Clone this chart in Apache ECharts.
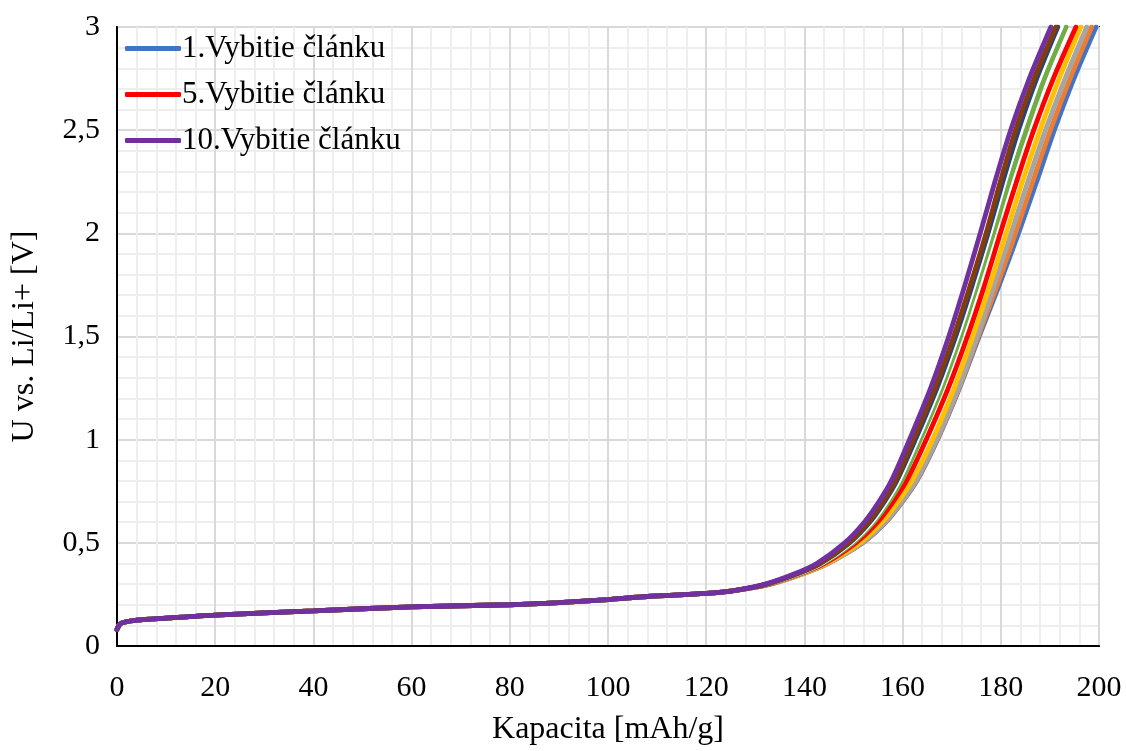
<!DOCTYPE html>
<html><head><meta charset="utf-8">
<script src="https://cdn.jsdelivr.net/npm/echarts@6/dist/echarts.min.js"></script>
<style>html,body{margin:0;padding:0;background:#fff}#c{width:1126px;height:751px}</style>
</head><body><div id="c"></div>
<script>
// Shared voltage levels [V]
const voltage = [0.08,0.11,0.125,0.135,0.15,0.17,0.19,0.20,0.21,0.225,0.24,0.255,0.27,
                 0.30,0.35,0.40,0.50,0.60,0.70,0.80,1.0,1.25,1.5,1.75,2.0,2.25,2.5,2.75,3.0];
// Capacity on the common plateau (same for all cycles)
const capPlateau = [0,0.8,4,10,20,40,60,80,90,100,108,120,126];
// Capacity above 0.3 V per discharge cycle [mAh/g]
const capTail1  = [133.1,139.7,144.8,151.9,156.6,160.0,162.9,167.1,171.6,175.6,179.7,183.6,187.3,190.9,194.9,199.4];
const capTail2  = [133.1,139.7,144.8,151.8,156.5,159.9,162.8,167.0,171.5,175.4,179.3,183.0,186.5,190.1,194.1,198.5];
const capTail3  = [133.1,139.7,144.8,151.7,156.4,159.8,162.7,166.9,171.4,175.2,178.7,182.1,185.5,189.1,193.1,197.5];
const capTail4  = [133.0,139.5,144.5,151.3,155.8,159.1,161.9,166.1,170.5,174.3,177.8,181.1,184.4,188.0,191.9,196.3];
const capTail5  = [132.8,139.2,144.1,150.5,154.9,158.1,160.8,164.8,169.3,173.2,176.7,179.9,183.2,186.7,190.7,195.3];
const capTail6  = [132.6,139.0,143.7,149.9,154.1,157.2,159.8,163.6,168.0,171.8,175.2,178.5,181.7,185.2,188.9,193.3];
const capTail7  = [132.5,138.8,143.5,149.5,153.7,156.7,159.2,163.0,167.4,171.2,174.6,177.8,180.8,184.0,187.8,192.3];
const capTail8  = [132.4,138.6,143.3,149.2,153.3,156.3,158.8,162.6,167.0,170.8,174.2,177.4,180.4,183.6,187.3,191.6];
const capTail9  = [132.3,138.4,143.1,149.0,153.0,156.0,158.5,162.2,166.6,170.4,173.8,177.0,179.9,183.0,186.8,191.2];
const capTail10 = [132.0,138.0,142.5,148.2,152.2,155.2,157.7,161.4,165.7,169.4,172.7,175.8,178.8,182.0,185.8,190.2];
const cycleNames = ['1.Vybitie článku','2.Vybitie článku','3.Vybitie článku','4.Vybitie článku','5.Vybitie článku',
                    '6.Vybitie článku','7.Vybitie článku','8.Vybitie článku','9.Vybitie článku','10.Vybitie článku'];
const cycleColors = ['#4472C4','#ED7D31','#A5A5A5','#FFC000','#FF0000','#70AD47','#FFFFFF','#264478','#843C0C','#7030A0'];
const legendNames = ['1.Vybitie článku','5.Vybitie článku','10.Vybitie článku'];
const xTicks = {min:0, max:200, interval:20};
const yTicks = {min:0, max:3, interval:0.5};

const tails = [capTail1,capTail2,capTail3,capTail4,capTail5,capTail6,capTail7,capTail8,capTail9,capTail10];
const FONT = '"Liberation Serif","Times New Roman",serif';
const series = tails.map((t,i)=>{
  const caps = capPlateau.concat(t);
  return {
    name: cycleNames[i], type:'line', showSymbol:false, symbol:'none',
    smooth:0.3,
    lineStyle:{width:4.8, color:cycleColors[i], cap:'round'},
    itemStyle:{color:cycleColors[i]},
    data: caps.map((c,k)=>[c, voltage[k]]),
    z: 2+i
  };
});

const chart = echarts.init(document.getElementById('c'), null, {renderer:'canvas'});
chart.setOption({
  animation:false,
  backgroundColor:'#fff',
  grid:{left:117, right:27, top:27, bottom:100, show:true, borderColor:'#000', borderWidth:2, backgroundColor:'transparent'},
  legend:{
    data: legendNames, orient:'vertical', left:120, top:28, itemGap:15,
    icon:'roundRect', itemWidth:56, itemHeight:5,
    textStyle:{fontFamily:FONT, fontSize:31, color:'#000', padding:[0,0,0,-4]}
  },
  xAxis:{
    type:'value', min:xTicks.min, max:xTicks.max, interval:xTicks.interval,
    name:'Kapacita [mAh/g]', nameLocation:'middle', nameGap:68,
    nameTextStyle:{fontFamily:FONT, fontSize:32, color:'#000'},
    axisLine:{show:true, onZero:false, lineStyle:{color:'#000', width:2}},
    axisTick:{show:false},
    axisLabel:{fontFamily:FONT, fontSize:30, color:'#000', margin:27},
    splitLine:{show:true, lineStyle:{color:'#d9d9d9', width:2}},
    minorTick:{show:false, splitNumber:5},
    minorSplitLine:{show:true, lineStyle:{color:'#eeeeee', width:2}}
  },
  yAxis:{
    type:'value', min:yTicks.min, max:yTicks.max, interval:yTicks.interval,
    name:'U vs. Li/Li+ [V]', nameLocation:'middle', nameGap:76,
    nameTextStyle:{fontFamily:FONT, fontSize:32, color:'#000'},
    axisLine:{show:true, onZero:false, lineStyle:{color:'#000', width:2}},
    axisTick:{show:false},
    axisLabel:{fontFamily:FONT, fontSize:30, color:'#000', margin:17,
      formatter:v=>String(v).replace('.',',')},
    splitLine:{show:true, lineStyle:{color:'#d9d9d9', width:2}},
    minorTick:{show:false, splitNumber:5},
    minorSplitLine:{show:true, lineStyle:{color:'#eeeeee', width:2}}
  },
  series: series
});
</script></body></html>
